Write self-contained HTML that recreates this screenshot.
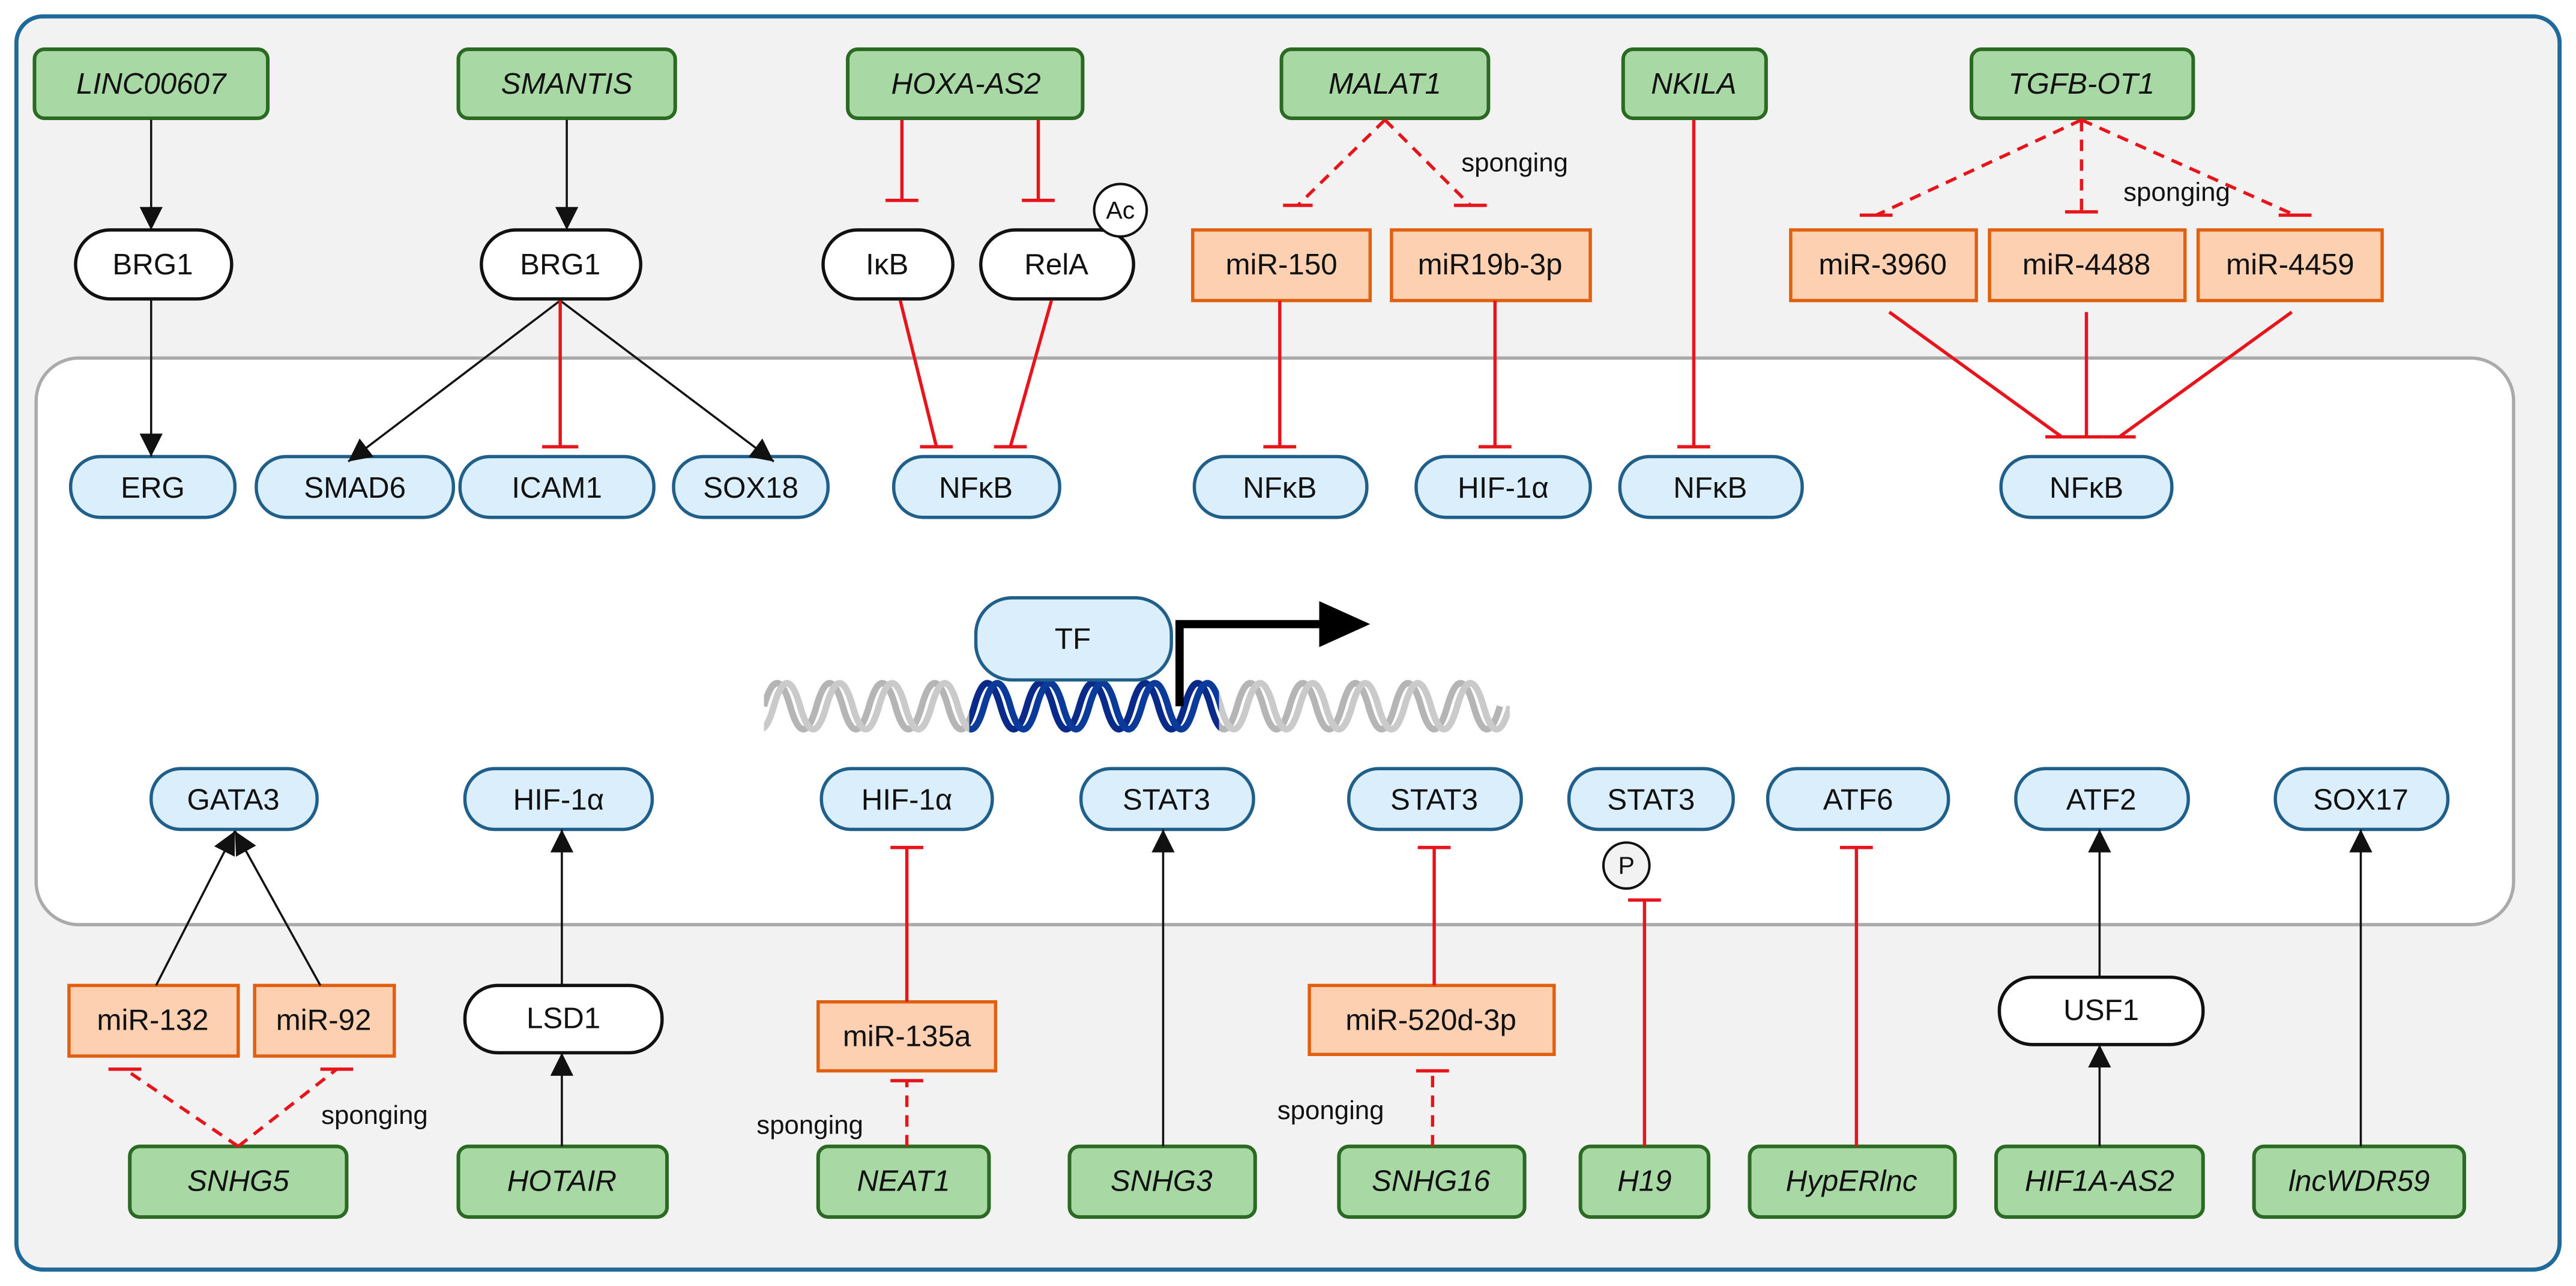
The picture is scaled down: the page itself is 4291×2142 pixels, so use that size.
<!DOCTYPE html>
<html><head><meta charset="utf-8"><style>
html,body{margin:0;padding:0;background:#fff}
svg{display:block}
text{font-family:"Liberation Sans",Arial,sans-serif;font-size:18px;fill:#111;text-anchor:middle;dominant-baseline:central}
.it{font-style:italic}
.g{fill:#a8d8a3;stroke:#2a6a22;stroke-width:2.2}
.o{fill:#fdd0b1;stroke:#e06010;stroke-width:2}
.b{fill:#dbeefb;stroke:#1f5f8a;stroke-width:2}
.w{fill:#fff;stroke:#111;stroke-width:2}
.k{stroke:#111;stroke-width:1.3;fill:none}
.r{stroke:#e8141b;stroke-width:2;fill:none}
.rd{stroke:#e8141b;stroke-width:2;fill:none;stroke-dasharray:7 5}
.sp{font-size:16px}
</style></head><body>
<svg width="4291" height="2142" viewBox="0 0 1568 783" preserveAspectRatio="none">
<defs>
<marker id="a" markerUnits="userSpaceOnUse" markerWidth="16" markerHeight="16" refX="14" refY="7" orient="auto"><path d="M0,0 L14,7 L0,14 z" fill="#111"/></marker>
<path id="s1" d="M465,430 q8,-28 16,0 t16,0 t16,0 t16,0 t16,0 t16,0 t16,0 t16,0 t16,0 t16,0 t16,0 t16,0 t16,0 t16,0 t16,0 t16,0 t16,0 t16,0 t16,0 t16,0 t16,0 t16,0 t16,0 t16,0 t16,0 t16,0 t16,0 t16,0"/>
<path id="s2" d="M455,430 q8,28 16,0 t16,0 t16,0 t16,0 t16,0 t16,0 t16,0 t16,0 t16,0 t16,0 t16,0 t16,0 t16,0 t16,0 t16,0 t16,0 t16,0 t16,0 t16,0 t16,0 t16,0 t16,0 t16,0 t16,0 t16,0 t16,0 t16,0 t16,0 t16,0"/>
<clipPath id="cb"><rect x="590" y="400" width="152" height="60"/></clipPath>
<clipPath id="ca"><rect x="465" y="400" width="454" height="60"/></clipPath>
</defs>
<rect x="10" y="10" width="1548" height="763" rx="16" fill="#f2f2f2" stroke="#1f6a9a" stroke-width="2.5"/>
<rect x="22" y="218" width="1508" height="345" rx="26" fill="#fff" stroke="#aaa" stroke-width="2"/>

<!-- top green -->
<rect class="g" x="21" y="30" width="142" height="42" rx="6"/><text class="it" x="92" y="51">LINC00607</text>
<rect class="g" x="279" y="30" width="132" height="42" rx="6"/><text class="it" x="345" y="51">SMANTIS</text>
<rect class="g" x="516" y="30" width="143" height="42" rx="6"/><text class="it" x="588" y="51">HOXA-AS2</text>
<rect class="g" x="780" y="30" width="126" height="42" rx="6"/><text class="it" x="843" y="51">MALAT1</text>
<rect class="g" x="988" y="30" width="87" height="42" rx="6"/><text class="it" x="1031" y="51">NKILA</text>
<rect class="g" x="1200" y="30" width="135" height="42" rx="6"/><text class="it" x="1267" y="51">TGFB-OT1</text>

<!-- row 2 -->
<rect class="w" x="46" y="140" width="95" height="42" rx="21"/><text x="93" y="161">BRG1</text>
<rect class="w" x="293" y="140" width="97" height="42" rx="21"/><text x="341" y="161">BRG1</text>
<rect class="w" x="501" y="140" width="79" height="42" rx="21"/><text x="540" y="161">IκB</text>
<rect class="w" x="597" y="140" width="93" height="42" rx="21"/><text x="643" y="161">RelA</text>
<circle cx="682" cy="128" r="16" fill="#fff" stroke="#111" stroke-width="1.5"/><text x="682" y="128" style="font-size:15px">Ac</text>
<rect class="o" x="726" y="140" width="108" height="43"/><text x="780" y="161">miR-150</text>
<rect class="o" x="847" y="140" width="121" height="43"/><text x="907" y="161">miR19b-3p</text>
<rect class="o" x="1090" y="140" width="113" height="43"/><text x="1146" y="161">miR-3960</text>
<rect class="o" x="1211" y="140" width="119" height="43"/><text x="1270" y="161">miR-4488</text>
<rect class="o" x="1338" y="140" width="112" height="43"/><text x="1394" y="161">miR-4459</text>

<!-- row 3 blue -->
<rect class="b" x="43" y="278" width="100" height="37" rx="18"/><text x="93" y="297">ERG</text>
<rect class="b" x="156" y="278" width="120" height="37" rx="18"/><text x="216" y="297">SMAD6</text>
<rect class="b" x="280" y="278" width="118" height="37" rx="18"/><text x="339" y="297">ICAM1</text>
<rect class="b" x="410" y="278" width="94" height="37" rx="18"/><text x="457" y="297">SOX18</text>
<rect class="b" x="544" y="278" width="101" height="37" rx="18"/><text x="594" y="297">NFκB</text>
<rect class="b" x="727" y="278" width="105" height="37" rx="18"/><text x="779" y="297">NFκB</text>
<rect class="b" x="862" y="278" width="106" height="37" rx="18"/><text x="915" y="297">HIF-1α</text>
<rect class="b" x="986" y="278" width="111" height="37" rx="18"/><text x="1041" y="297">NFκB</text>
<rect class="b" x="1218" y="278" width="104" height="37" rx="18"/><text x="1270" y="297">NFκB</text>

<!-- DNA -->
<g fill="none" stroke-width="4">
<g clip-path="url(#ca)">
<use href="#s1" stroke="#b5b5b5"/>
<use href="#s2" stroke="#cacaca"/>
</g>
<g clip-path="url(#cb)">
<use href="#s1" stroke="#0a2a8a"/>
<use href="#s2" stroke="#0a3a9a"/>
</g></g>
<rect class="b" x="594" y="364" width="119" height="50" rx="22"/><text x="653" y="389">TF</text>
<path d="M718,430 V380 H805" fill="none" stroke="#000" stroke-width="5"/>
<path d="M803,366 L834,380 L803,394 z" fill="#000"/>

<!-- bottom blue -->
<rect class="b" x="92" y="468" width="101" height="37" rx="18"/><text x="142" y="487">GATA3</text>
<rect class="b" x="283" y="468" width="114" height="37" rx="18"/><text x="340" y="487">HIF-1α</text>
<rect class="b" x="500" y="468" width="104" height="37" rx="18"/><text x="552" y="487">HIF-1α</text>
<rect class="b" x="658" y="468" width="105" height="37" rx="18"/><text x="710" y="487">STAT3</text>
<rect class="b" x="821" y="468" width="105" height="37" rx="18"/><text x="873" y="487">STAT3</text>
<rect class="b" x="955" y="468" width="100" height="37" rx="18"/><text x="1005" y="487">STAT3</text>
<circle cx="990" cy="527" r="14" fill="#f2f2f2" stroke="#111" stroke-width="1.5"/><text x="990" y="527" style="font-size:15px">P</text>
<rect class="b" x="1076" y="468" width="110" height="37" rx="18"/><text x="1131" y="487">ATF6</text>
<rect class="b" x="1227" y="468" width="105" height="37" rx="18"/><text x="1279" y="487">ATF2</text>
<rect class="b" x="1385" y="468" width="105" height="37" rx="18"/><text x="1437" y="487">SOX17</text>

<!-- bottom mid -->
<rect class="o" x="42" y="600" width="103" height="43"/><text x="93" y="621">miR-132</text>
<rect class="o" x="155" y="600" width="85" height="43"/><text x="197" y="621">miR-92</text>
<rect class="w" x="283" y="600" width="120" height="41" rx="20"/><text x="343" y="620">LSD1</text>
<rect class="o" x="498" y="610" width="108" height="42"/><text x="552" y="631">miR-135a</text>
<rect class="o" x="797" y="600" width="149" height="42"/><text x="871" y="621">miR-520d-3p</text>
<rect class="w" x="1217" y="595" width="124" height="41" rx="20"/><text x="1279" y="615">USF1</text>

<!-- bottom green -->
<rect class="g" x="79" y="698" width="132" height="43" rx="6"/><text class="it" x="145" y="719">SNHG5</text>
<rect class="g" x="279" y="698" width="127" height="43" rx="6"/><text class="it" x="342" y="719">HOTAIR</text>
<rect class="g" x="498" y="698" width="104" height="43" rx="6"/><text class="it" x="550" y="719">NEAT1</text>
<rect class="g" x="651" y="698" width="113" height="43" rx="6"/><text class="it" x="707" y="719">SNHG3</text>
<rect class="g" x="815" y="698" width="113" height="43" rx="6"/><text class="it" x="871" y="719">SNHG16</text>
<rect class="g" x="962" y="698" width="78" height="43" rx="6"/><text class="it" x="1001" y="719">H19</text>
<rect class="g" x="1065" y="698" width="125" height="43" rx="6"/><text class="it" x="1127" y="719">HypERlnc</text>
<rect class="g" x="1215" y="698" width="126" height="43" rx="6"/><text class="it" x="1278" y="719">HIF1A-AS2</text>
<rect class="g" x="1372" y="698" width="128" height="43" rx="6"/><text class="it" x="1436" y="719">lncWDR59</text>

<!-- labels -->
<text class="sp" x="922" y="99">sponging</text>
<text class="sp" x="1325" y="117">sponging</text>
<text class="sp" x="228" y="679">sponging</text>
<text class="sp" x="493" y="685">sponging</text>
<text class="sp" x="810" y="676">sponging</text>

<!-- black arrows -->
<g class="k" marker-end="url(#a)">
<line x1="92" y1="73" x2="92" y2="140"/>
<line x1="92" y1="182" x2="92" y2="278"/>
<line x1="345" y1="73" x2="345" y2="140"/>
<line x1="341" y1="183" x2="212" y2="281"/>
<line x1="341" y1="183" x2="471" y2="281"/>
<line x1="95" y1="600" x2="143" y2="506"/>
<line x1="195" y1="600" x2="143" y2="506"/>
<line x1="342" y1="698" x2="342" y2="641"/>
<line x1="342" y1="600" x2="342" y2="505"/>
<line x1="708" y1="698" x2="708" y2="505"/>
<line x1="1278" y1="698" x2="1278" y2="636"/>
<line x1="1278" y1="595" x2="1278" y2="505"/>
<line x1="1437" y1="698" x2="1437" y2="505"/>
</g>

<!-- red inhibition solid -->
<g class="r">
<path d="M341,183 V272 M330,272 H352"/>
<path d="M549,73 V122 M539,122 H559"/>
<path d="M632,73 V122 M622,122 H642"/>
<path d="M548,183 L570,272 M560,272 H580"/>
<path d="M640,183 L615,272 M605,272 H625"/>
<path d="M779,183 V272 M769,272 H789"/>
<path d="M910,183 V272 M900,272 H920"/>
<path d="M1031,73 V272 M1021,272 H1041"/>
<path d="M1150,190 L1255,266 M1245,266 H1265"/>
<path d="M1270,190 V266 M1260,266 H1280"/>
<path d="M1395,190 L1290,266 M1280,266 H1300"/>
<path d="M552,610 V516 M542,516 H562"/>
<path d="M873,600 V516 M863,516 H883"/>
<path d="M1001,698 V548 M991,548 H1011"/>
<path d="M1130,698 V516 M1120,516 H1140"/>
</g>
<!-- red dashed -->
<g class="rd">
<path d="M843,73 L790,125"/><path d="M843,73 L895,125"/>
<path d="M1267,73 L1142,131"/><path d="M1267,73 V129"/><path d="M1267,73 L1397,131"/>
<path d="M145,698 L76,651"/><path d="M145,698 L205,651"/>
<path d="M552,698 V658"/><path d="M872,698 V652"/>
</g>
<g class="r" stroke-width="2.5">
<path d="M781,125 H799 M885,125 H905"/>
<path d="M1132,131 H1152 M1257,129 H1277 M1387,131 H1407"/>
<path d="M66,651 H86 M195,651 H215"/>
<path d="M542,658 H562 M862,652 H882"/>
</g>
</svg>
</body></html>
